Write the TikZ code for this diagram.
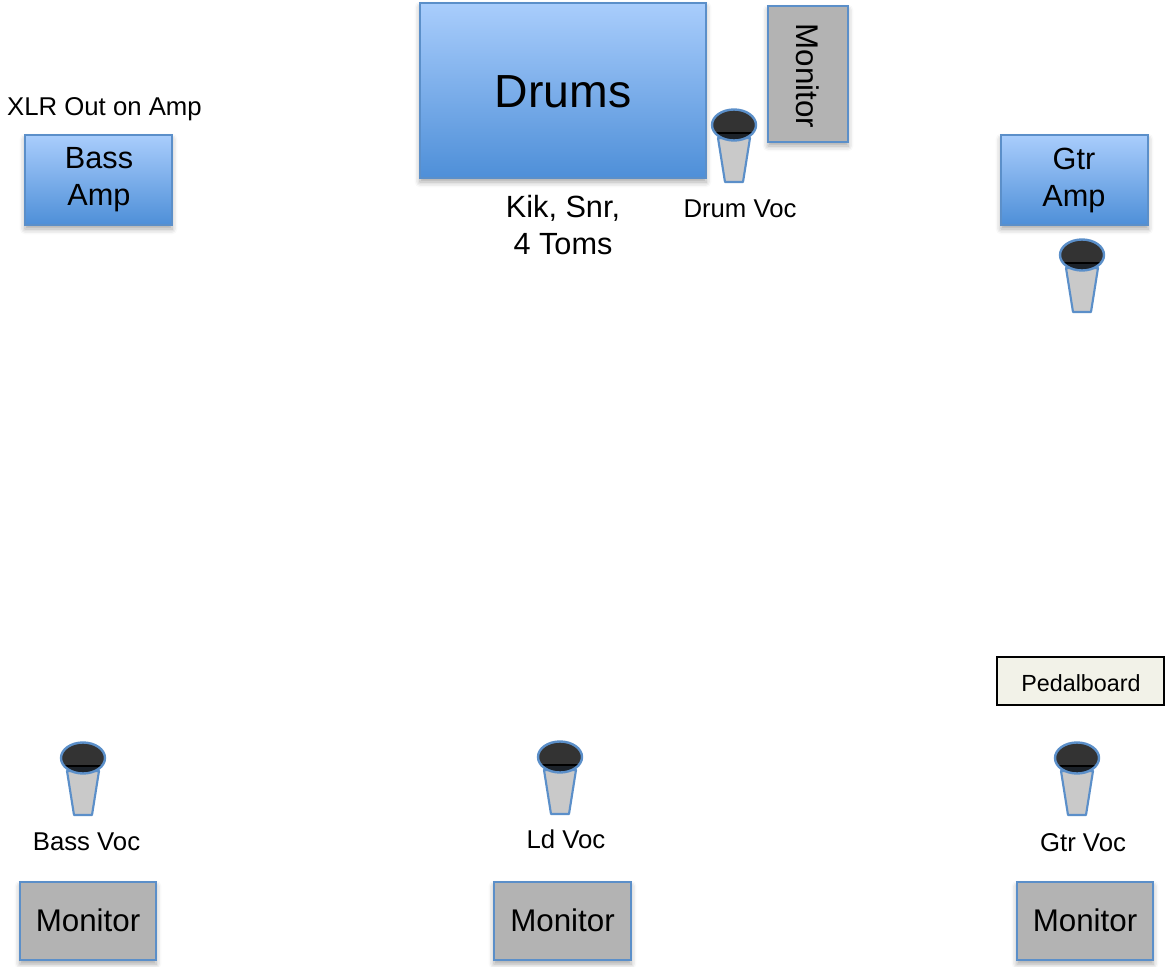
\documentclass[tikz,border=0pt]{standalone}
\usepackage{fontspec}
\setmainfont{Liberation Sans}
\usetikzlibrary{fit,shadows.blur}
\definecolor{bluetop}{HTML}{A9CDFC}
\definecolor{bluebot}{HTML}{4E8FD8}
\definecolor{edgeblue}{HTML}{5B8FC9}
\definecolor{monfill}{HTML}{B3B3B3}
\definecolor{pedfill}{HTML}{F2F2E8}
\definecolor{headgray}{HTML}{333333}
\definecolor{headband}{HTML}{1C2229}
\definecolor{bodygray}{HTML}{C9C9C9}
\tikzset{
  x=0.75pt, y=-0.75pt,
  boxshadow/.style={blur shadow={shadow xshift=0pt, shadow yshift=-3pt, shadow blur radius=4pt, shadow opacity=35}},
  bluebox/.style={draw=edgeblue, line width=1.6pt, top color=bluetop, bottom color=bluebot, inner sep=0pt, boxshadow},
  graybox/.style={draw=edgeblue, line width=1.6pt, fill=monfill, inner sep=0pt, boxshadow},
  pedbox/.style={draw=black, line width=1.5pt, fill=pedfill, inner sep=0pt},
  lbl/.style={font=\fontsize{19.3}{23}\selectfont, inner sep=0pt},
  bigtxt/.style={font=\fontsize{23}{27.75}\selectfont, align=center, inner sep=0pt},
  montxt/.style={font=\fontsize{23.5}{28}\selectfont, inner sep=0pt},
  pedtxt/.style={font=\fontsize{17.5}{21}\selectfont, inner sep=0pt},
  drumtxt/.style={font=\fontsize{34.8}{40}\selectfont, inner sep=0pt},
  mic/.pic={
    \path[fill=bodygray, draw=edgeblue, line width=1.6pt, line join=round]
      (-16,13) -- (16,13) -- (9,57) -- (-9,57) -- cycle;
    \fill[headgray] (0,0) ellipse [x radius=22, y radius=15.5];
    \begin{scope}
      \clip (0,0) ellipse [x radius=22, y radius=15.5];
      \fill[headband] (-23,8) rectangle (23,17);
      \draw[black, line width=1pt] (-23,8) -- (23,8);
    \end{scope}
    \draw[edgeblue, line width=1.8pt] (0,0) ellipse [x radius=22, y radius=15.5];
  }
}
\begin{document}
\begin{tikzpicture}
\useasboundingbox (0,0) rectangle (1165,967);
% Drums and drum monitor
\node[bluebox, fit={(420,3) (706,178)}] (drums) {};
\node[drumtxt] (drumstxt) at (563,91.5) {Drums};
\node[graybox, fit={(768,6) (848,142)}] (drummon) {};
\node[montxt, rotate=-90] (drummontxt) at (808,76) {Monitor};
\pic (drummic) at (734,125) {mic};
\node[lbl, anchor=base] (drumvoc) at (740,217) {Drum Voc};
\node[bigtxt] (kit) at (563,224.7) {Kik, Snr,\\4 Toms};
% Bass amp
\node[lbl, anchor=base] (xlr) at (104.5,115) {XLR Out on Amp};
\node[bluebox, fit={(25,135) (172,225)}] (bassamp) {};
\node[bigtxt] (bassamptxt) at (99,180) {Bass\\Amp};
% Guitar amp
\node[bluebox, fit={(1001,135) (1148,225)}] (gtramp) {};
\node[bigtxt] (gtramptxt) at (1074,180) {Gtr\\Amp};
\pic (gtrampmic) at (1082,255) {mic};
% Pedalboard
\node[pedbox, fit={(997,657) (1164,705)}] (pedal) {};
\node[pedtxt, anchor=base] (pedaltxt) at (1081,691) {Pedalboard};
% Vocal mics
\pic (bassmic) at (83,758) {mic};
\pic (ldmic) at (560,757) {mic};
\pic (gtrmic) at (1077,758) {mic};
\node[lbl, anchor=base] (bassvoc) at (86.5,850) {Bass Voc};
\node[lbl, anchor=base] (ldvoc) at (566,848) {Ld Voc};
\node[lbl, anchor=base] (gtrvoc) at (1083,851) {Gtr Voc};
% Floor monitors
\node[graybox, fit={(20,882) (156,960)}] (bassmon) {};
\node[montxt] (bassmontxt) at (88,920) {Monitor};
\node[graybox, fit={(494,882) (631,960)}] (ldmon) {};
\node[montxt] (ldmontxt) at (562.5,920) {Monitor};
\node[graybox, fit={(1017,882) (1153,960)}] (gtrmon) {};
\node[montxt] (gtrmontxt) at (1085,920) {Monitor};
\end{tikzpicture}
\end{document}
